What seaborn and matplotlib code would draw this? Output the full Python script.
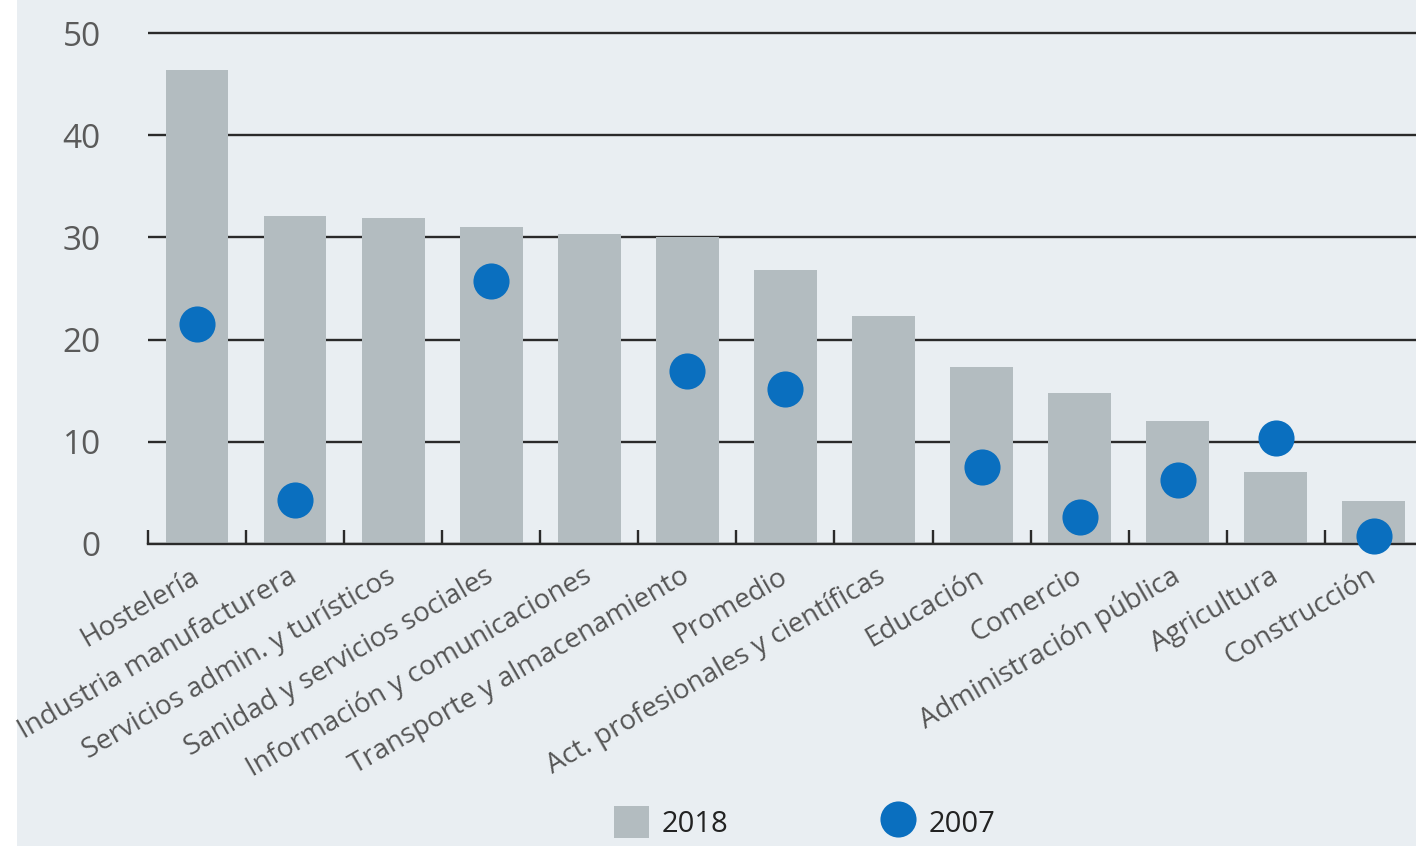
import numpy as np
import matplotlib
matplotlib.use("Agg")
import matplotlib.pyplot as plt
import matplotlib.patches as mpatches
from matplotlib.lines import Line2D
from matplotlib.ticker import FixedLocator
import seaborn as sns

categories = [
    "Hostelería", "Industria manufacturera", "Servicios admin. y turísticos",
    "Sanidad y servicios sociales", "Información y comunicaciones",
    "Transporte y almacenamiento", "Promedio",
    "Act. profesionales y científicas", "Educación", "Comercio",
    "Administración pública", "Agricultura", "Construcción",
]
values_2018 = [46.4, 32.1, 31.9, 31.0, 30.3, 30.0, 26.8, 22.3, 17.3, 14.8, 12.0, 7.0, 4.2]
values_2007 = [21.5, 4.3, np.nan, 25.7, np.nan, 16.9, 15.2, np.nan, 7.5, 2.6, 6.3, 10.4, 0.8]
y_ticks = [0, 10, 20, 30, 40, 50]

bg = "#e9eef2"
bar_color = "#b3bcc0"
dot_color = "#0a6fbf"
line_color = "#2a2a2a"

sns.set_theme(style="white")
plt.rcParams["font.family"] = ["Open Sans", "DejaVu Sans"]

fig = plt.figure(figsize=(14.16, 8.46), dpi=100, facecolor="white")
fig.patches.append(mpatches.Rectangle((17 / 1416, 0), 1, 1, transform=fig.transFigure,
                                      facecolor=bg, edgecolor="none", zorder=-10))
ax = fig.add_axes([148 / 1416, 0.357, 1 - 148 / 1416, 0.610])
ax.patch.set_alpha(0)

sns.barplot(x=categories, y=values_2018, color=bar_color, width=0.64,
            saturation=1, linewidth=0, edgecolor="none", ax=ax, zorder=2)
sns.stripplot(x=categories, y=values_2007, color=dot_color, jitter=False,
              size=26, linewidth=0, ax=ax, zorder=3)
for coll in ax.collections:
    coll.set_clip_on(False)

ax.set_xlim(-0.5, 12.43)
ax.set_ylim(0, 50.5)
ax.set_yticks(y_ticks)
ax.yaxis.grid(True, color=line_color, linewidth=1.7)
ax.xaxis.grid(False)
ax.set_axisbelow(True)
for side in ["top", "right", "left"]:
    ax.spines[side].set_visible(False)
ax.spines["bottom"].set_color(line_color)
ax.spines["bottom"].set_linewidth(1.7)

ax.tick_params(axis="y", length=0, pad=34, labelsize=24, labelcolor="#5a5a5a")
ax.tick_params(axis="x", which="major", length=0, pad=22)
ax.xaxis.set_minor_locator(FixedLocator(np.arange(-0.5, 12.5, 1)))
ax.tick_params(axis="x", which="minor", direction="in", length=10, width=1.7,
               color=line_color, bottom=True)
ax.set_xticks(range(len(categories)))
ax.set_xticklabels(categories, rotation=30, ha="right", va="center",
                   rotation_mode="anchor", fontsize=20, color="#555555")
ax.set_xlabel("")
ax.set_ylabel("")

handles = [
    mpatches.Patch(facecolor=bar_color, edgecolor="none", label="2018"),
    Line2D([], [], marker="o", linestyle="none", markersize=26,
           markerfacecolor=dot_color, markeredgewidth=0, label="2007"),
]
fig.legend(handles=handles, loc="upper left", bbox_to_anchor=(0.423, 0.064),
           ncol=2, frameon=False, fontsize=21, handlelength=1.2, handleheight=1.3,
           handletextpad=0.45, columnspacing=5.2, borderpad=0, labelcolor="#222222")

plt.savefig("out.png", dpi=100, facecolor="white")
